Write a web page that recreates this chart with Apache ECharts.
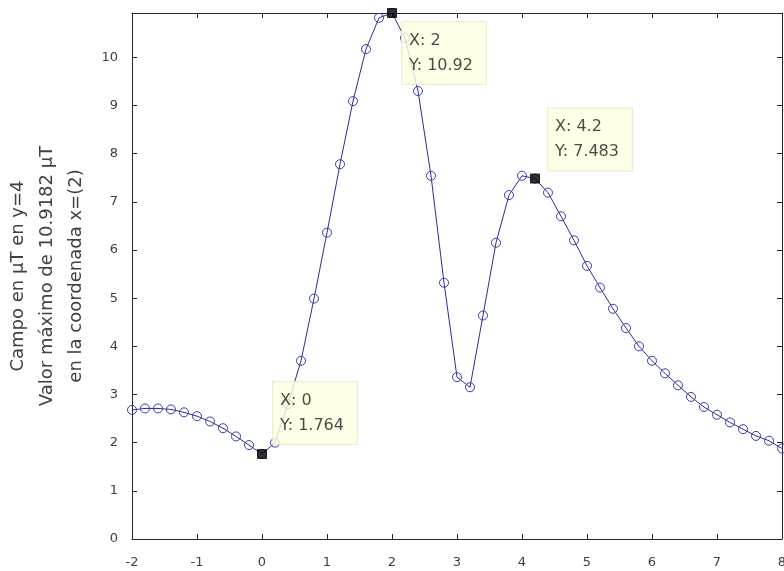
<!DOCTYPE html>
<html>
<head>
<meta charset="utf-8">
<script src="https://cdn.jsdelivr.net/npm/echarts@6/dist/echarts.min.js"></script>
<style>
  html, body { margin: 0; padding: 0; background: #ffffff; }
  #chart { width: 784px; height: 571px; }
</style>
</head>
<body>
<div id="chart"></div>
<script>
  var xValues = [-2, -1.8, -1.6, -1.4, -1.2, -1, -0.8, -0.6, -0.4, -0.2,
    0, 0.2, 0.4, 0.6, 0.8, 1, 1.2, 1.4, 1.6, 1.8,
    2, 2.2, 2.4, 2.6, 2.8, 3, 3.2, 3.4, 3.6, 3.8,
    4, 4.2, 4.4, 4.6, 4.8, 5, 5.2, 5.4, 5.6, 5.8,
    6, 6.2, 6.4, 6.6, 6.8, 7, 7.2, 7.4, 7.6, 7.8, 8]
  var campo = [2.68, 2.71, 2.71, 2.69, 2.63, 2.55, 2.44, 2.30, 2.13, 1.95,
    1.764, 2.0, 2.8, 3.7, 4.99, 6.36, 7.78, 9.09, 10.17, 10.82,
    10.92, 10.4, 9.3, 7.54, 5.32, 3.36, 3.15, 4.64, 6.15, 7.14,
    7.54, 7.483, 7.19, 6.7, 6.2, 5.67, 5.22, 4.78, 4.38, 4.0,
    3.7, 3.44, 3.19, 2.95, 2.74, 2.58, 2.42, 2.28, 2.14, 2.04, 1.88]
  var xTicks = ['-2', '-1', '0', '1', '2', '3', '4', '5', '6', '7', '8']
  // datatips (MATLAB style)
  var tipX = [0, 2, 4.2]
  var tipY = [1.764, 10.92, 7.483]
  var tipText = [['X: 0', 'Y: 1.764'], ['X: 2', 'Y: 10.92'], ['X: 4.2', 'Y: 7.483']]
  var tipOffset = [[16, -67], [15, 14], [18, -65]]

  var axisColor = '#262626'
  var tickFont = 'DejaVu Sans, Liberation Sans, sans-serif'

  var seriesData = xValues.map(function (x, i) { return [x, campo[i]] })

  var tipData = tipX.map(function (x, i) {
    return {
      value: [x, tipY[i]],
      label: {
        show: true,
        position: tipOffset[i],
        formatter: tipText[i].join('\n')
      }
    }
  })

  var myChart = echarts.init(document.getElementById('chart'))
  myChart.setOption({
    animation: false,
    backgroundColor: '#ffffff',
    grid: {
      left: 132,
      right: 2,
      top: 13,
      bottom: 32,
      containLabel: false,
      outerBoundsMode: 'none',
      show: false
    },
    xAxis: [{
      type: 'value',
      min: -2,
      max: 8,
      interval: 1,
      axisLine: { onZero: false, lineStyle: { color: axisColor, width: 1 } },
      axisTick: { inside: true, length: 5, lineStyle: { color: axisColor } },
      axisLabel: {
        color: '#404040',
        fontSize: 13,
        fontFamily: tickFont,
        margin: 17,
        formatter: function (v) { return xTicks[Math.round(v + 2)] }
      },
      splitLine: { show: false }
    }, {
      type: 'value',
      position: 'top',
      min: -2,
      max: 8,
      interval: 1,
      axisLine: { onZero: false, lineStyle: { color: axisColor, width: 1 } },
      axisTick: { inside: true, length: 5, lineStyle: { color: axisColor } },
      axisLabel: { show: false },
      splitLine: { show: false }
    }],
    yAxis: [{
      type: 'value',
      min: 0,
      max: 10.92,
      interval: 1,
      name: 'Campo en μT en y=4\nValor máximo de 10.9182 μT\nen la coordenada x=(2)',
      nameLocation: 'middle',
      nameRotate: 90,
      nameGap: 32,
      nameTextStyle: {
        color: '#404040',
        fontSize: 18,
        fontFamily: tickFont,
        lineHeight: 29
      },
      axisLine: { onZero: false, lineStyle: { color: axisColor, width: 1 } },
      axisTick: { inside: true, length: 5, lineStyle: { color: axisColor } },
      axisLabel: {
        color: '#404040',
        fontSize: 13,
        fontFamily: tickFont,
        margin: 14,
        showMaxLabel: false
      },
      splitLine: { show: false }
    }, {
      type: 'value',
      position: 'right',
      min: 0,
      max: 10.92,
      interval: 1,
      axisLine: { onZero: false, lineStyle: { color: axisColor, width: 1 } },
      axisTick: { inside: true, length: 5, lineStyle: { color: axisColor } },
      axisLabel: { show: false },
      splitLine: { show: false }
    }],
    series: [{
      type: 'line',
      data: seriesData,
      xAxisIndex: 0,
      yAxisIndex: 0,
      symbol: 'circle',
      symbolSize: 9,
      showAllSymbol: true,
      lineStyle: { color: '#2e2e8c', width: 1 },
      itemStyle: { color: 'rgba(0,0,0,0)', borderColor: '#3b3bb0', borderWidth: 1 },
      z: 2
    }, {
      type: 'scatter',
      data: tipData,
      xAxisIndex: 0,
      yAxisIndex: 0,
      symbol: 'rect',
      symbolSize: 10,
      itemStyle: { color: '#000000' },
      label: {
        color: '#1a1a1a',
        fontSize: 16,
        fontFamily: tickFont,
        lineHeight: 25,
        align: 'left',
        verticalAlign: 'top',
        backgroundColor: '#ffffe1',
        borderColor: '#e6e6cc',
        borderWidth: 1,
        padding: [6, 13, 6, 7]
      },
      z: 5
    }]
  })
</script>
</body>
</html>
